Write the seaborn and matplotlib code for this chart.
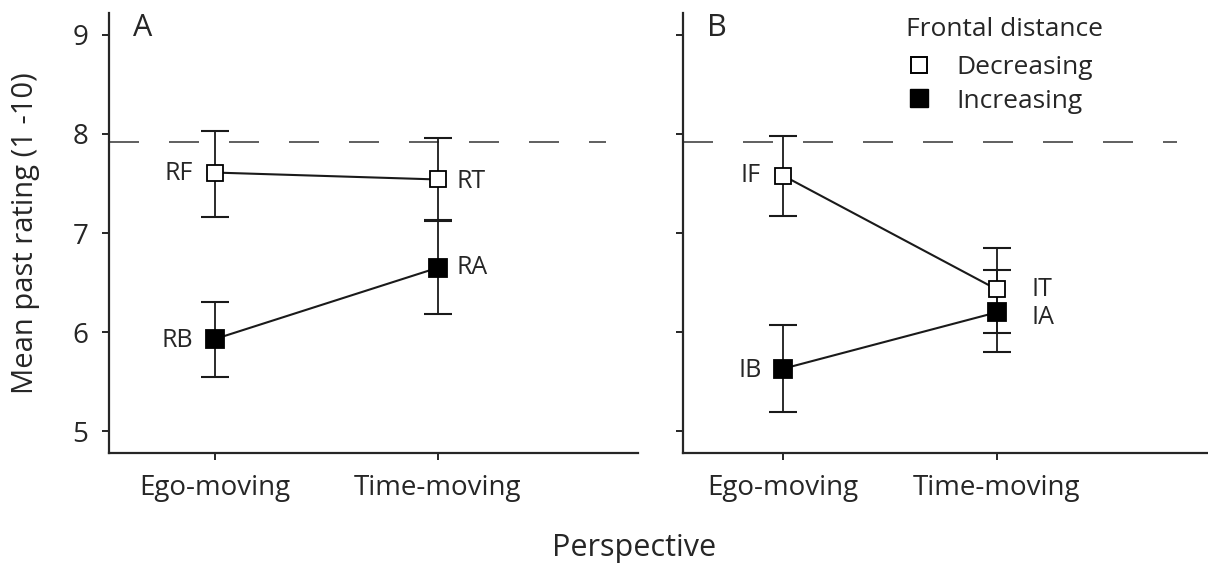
import numpy as np
import pandas as pd
import matplotlib
matplotlib.use("Agg")
import matplotlib.pyplot as plt
from matplotlib.lines import Line2D
import seaborn as sns

# Date
perspective = ["Ego-moving", "Time-moving"]
frontal = ["Decreasing", "Increasing"]

# Panou A
a_decr_mean = [7.61, 7.54]
a_decr_lo = [7.16, 7.12]
a_decr_hi = [8.03, 7.96]
a_incr_mean = [5.93, 6.65]
a_incr_lo = [5.55, 6.18]
a_incr_hi = [6.30, 7.13]
a_labels_decr = ["RF", "RT"]
a_labels_incr = ["RB", "RA"]

# Panou B
b_decr_mean = [7.58, 6.43]
b_decr_lo = [7.17, 5.99]
b_decr_hi = [7.98, 6.85]
b_incr_mean = [5.63, 6.20]
b_incr_lo = [5.19, 5.80]
b_incr_hi = [6.07, 6.63]
b_labels_decr = ["IF", "IT"]
b_labels_incr = ["IB", "IA"]

reference_line = 7.92

sns.set_style("ticks")
plt.rcParams['font.family'] = ['Open Sans', 'DejaVu Sans']
plt.rcParams['axes.linewidth'] = 1.6
plt.rcParams['xtick.major.width'] = 1.4
plt.rcParams['ytick.major.width'] = 1.4

fig = plt.figure(figsize=(12.08, 5.65), dpi=100)
axA = fig.add_axes([109 / 1208, 1 - 453 / 565, 529 / 1208, 440 / 565])
axB = fig.add_axes([683 / 1208, 1 - 453 / 565, 525 / 1208, 440 / 565])


def make_df(decr_mean, decr_lo, decr_hi, incr_mean, incr_lo, incr_hi):
    rows = []
    for i, p in enumerate(perspective):
        rows.append(dict(perspective=p, x=i, frontal="Decreasing",
                         mean=decr_mean[i], lo=decr_lo[i], hi=decr_hi[i]))
        rows.append(dict(perspective=p, x=i, frontal="Increasing",
                         mean=incr_mean[i], lo=incr_lo[i], hi=incr_hi[i]))
    return pd.DataFrame(rows)


def draw_panel(ax, df, labels_decr, labels_incr, letter, xlim, label_off):
    for fr, face, ms in [("Decreasing", "white", 11.5), ("Increasing", "black", 13)]:
        sub = df[df.frontal == fr]
        ax.errorbar(sub.x, sub["mean"],
                    yerr=[sub["mean"] - sub.lo, sub.hi - sub["mean"]],
                    fmt="none", ecolor="#1a1a1a", elinewidth=1.3,
                    capsize=10, capthick=1.5, zorder=2)
        sns.lineplot(data=sub, x="x", y="mean", ax=ax, color="#1a1a1a",
                     linewidth=1.5, marker="s", markersize=ms,
                     markerfacecolor=face, markeredgecolor="black",
                     markeredgewidth=1.3, zorder=3, legend=False)

    sub_d = df[df.frontal == "Decreasing"].reset_index(drop=True)
    sub_i = df[df.frontal == "Increasing"].reset_index(drop=True)
    for lab_list, sub, key in [(labels_decr, sub_d, "d"), (labels_incr, sub_i, "i")]:
        for i, lab in enumerate(lab_list):
            dx, dy = label_off[key][i]
            ha = "right" if dx < 0 else "left"
            ax.annotate(lab, (sub.x[i], sub["mean"][i]), xytext=(dx, dy),
                        textcoords="offset points", ha=ha, va="center",
                        fontsize=18)

    ax.axhline(reference_line, color="#444444", linewidth=1.2,
               dashes=(18, 18), xmax=0.94, zorder=1)
    ax.set_xlim(*xlim)
    ax.set_ylim(4.78, 9.22)
    ax.set_xticks([0, 1])
    ax.set_xticklabels(perspective)
    ax.set_yticks([5, 6, 7, 8, 9])
    ax.tick_params(axis="both", length=5, direction="out", pad=10, labelsize=20)
    ax.set_xlabel("")
    ax.set_ylabel("")
    ax.text(0.045, 1.0, letter, transform=ax.transAxes, fontsize=22,
            va="top", ha="left")
    sns.despine(ax=ax)


dfA = make_df(a_decr_mean, a_decr_lo, a_decr_hi, a_incr_mean, a_incr_lo, a_incr_hi)
dfB = make_df(b_decr_mean, b_decr_lo, b_decr_hi, b_incr_mean, b_incr_lo, b_incr_hi)

draw_panel(axA, dfA, a_labels_decr, a_labels_incr, "A", (-0.475, 1.897),
           {"d": [(-16, -1), (13, -1.5)], "i": [(-16, -1), (13, 0)]})
draw_panel(axB, dfB, b_labels_decr, b_labels_incr, "B", (-0.467, 1.986),
           {"d": [(-16, 0), (25, 0)], "i": [(-15, -1), (25, -4)]})

axA.set_ylabel("Mean past rating (1 -10)", fontsize=21)
axA.yaxis.set_label_coords(-0.13, 0.5)
axB.set_yticklabels([])

# Legenda: titlu separat + intrari
fig.text(1005 / 1208, 1 - 30 / 565, "Frontal distance", fontsize=19,
         ha="center", va="center")
handles = [Line2D([], [], marker="s", linestyle="none", markersize=11,
                  markerfacecolor="white", markeredgecolor="black", markeredgewidth=1.4),
           Line2D([], [], marker="s", linestyle="none", markersize=13,
                  markerfacecolor="black", markeredgecolor="black")]
leg = fig.legend(handles, frontal, fontsize=19, frameon=False, loc="upper left",
                 bbox_to_anchor=(906 / 1208, 1 - 55 / 565), handlelength=1.0,
                 handletextpad=0.9, labelspacing=0.33, borderaxespad=0,
                 borderpad=0)

fig.text(634 / 1208, 1 - 548 / 565, "Perspective", fontsize=22,
         ha="center", va="center")

fig.savefig("out.png", dpi=100)
